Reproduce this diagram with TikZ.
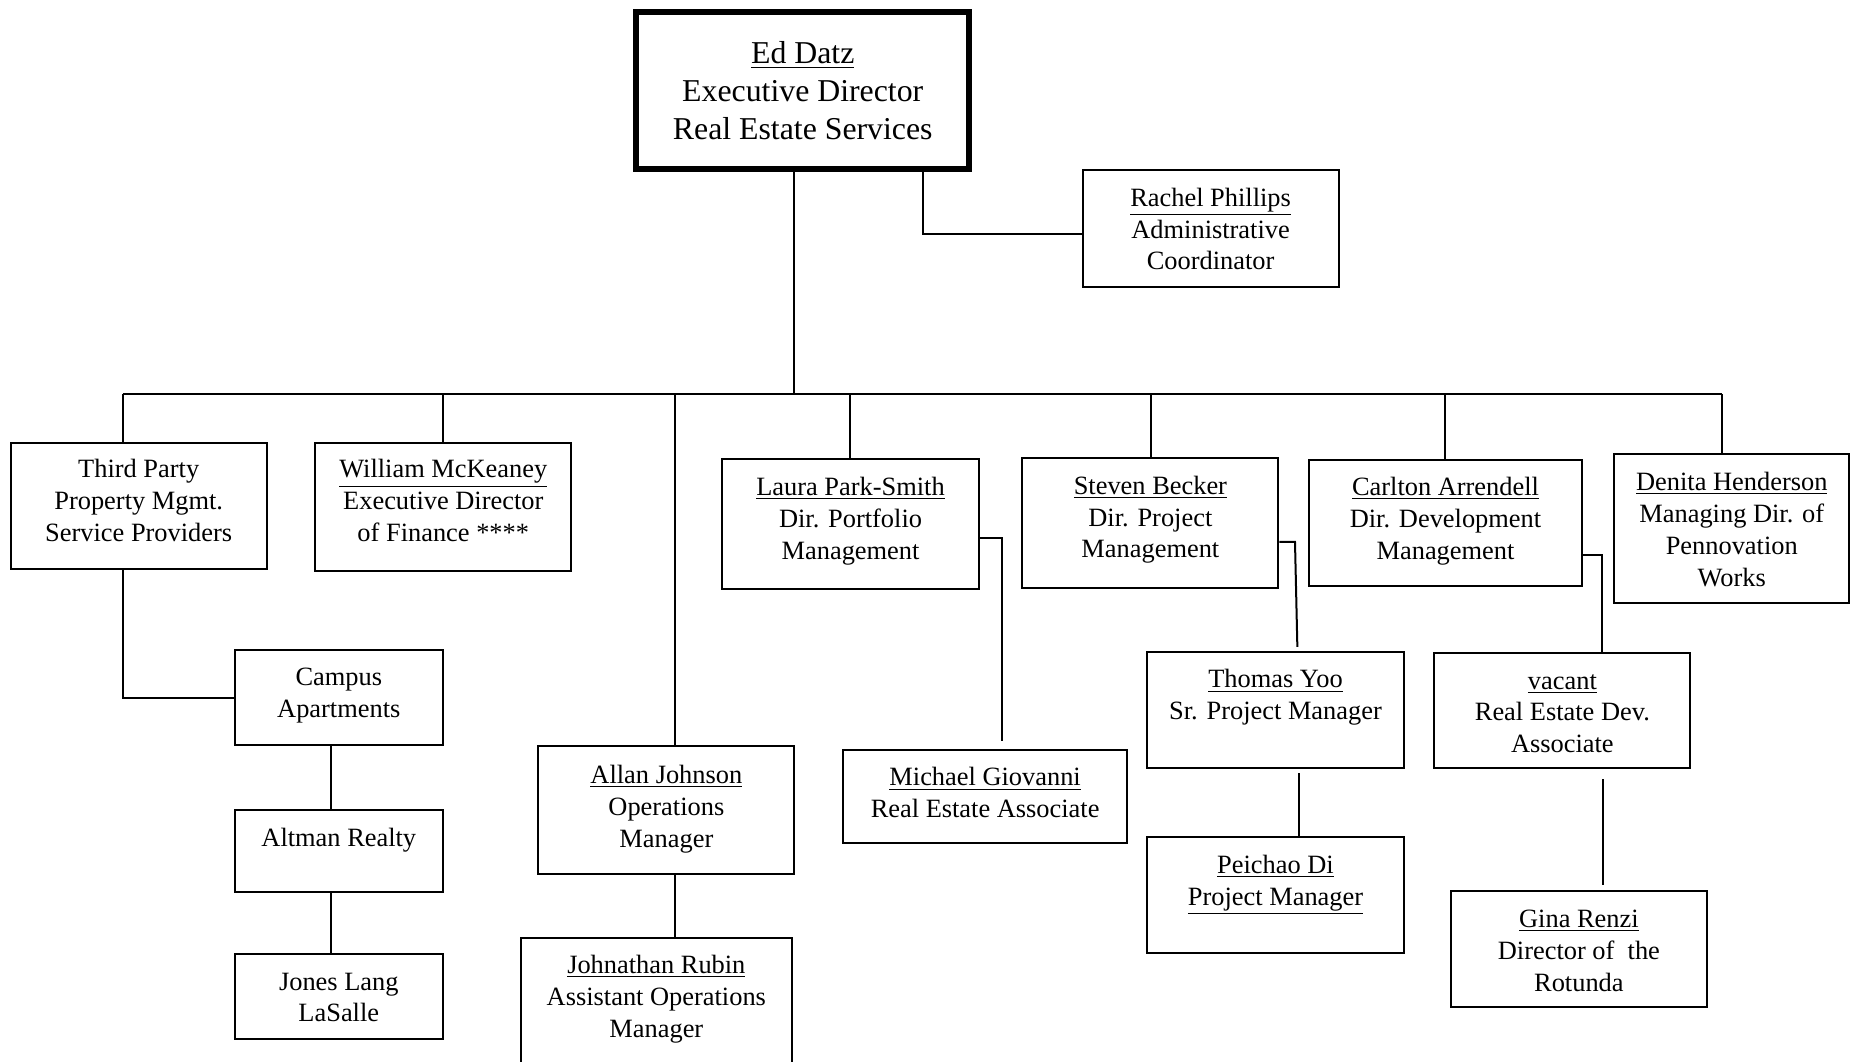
\documentclass[tikz,border=0pt]{standalone}
\usepackage{fontspec}
\setmainfont{Liberation Serif}
\usetikzlibrary{fit}
\begin{document}
\begin{tikzpicture}[x=0.5902pt,y=-0.5902pt,
  box/.style={draw, line width=1pt, inner sep=0pt, fit={#1}},
  bigbox/.style={draw, line width=3pt, inner sep=0pt, fit={#1}},
  txt/.style={align=center, inner sep=0pt, anchor=north, font=\fontsize{13.2}{15.9}\selectfont},
  bigtxt/.style={align=center, inner sep=0pt, anchor=north, font=\fontsize{15.9}{18.9}\selectfont},
  conn/.style={draw, line width=1pt}]
\useasboundingbox (0,0) rectangle (1568,899);
\clip (0,0) rectangle (1568,899);

% boxes
\node[bigbox={(539,10) (821,143)}] (ed) {};
\node[bigtxt] (edt) at (680,31.4) {\strut\underline{Ed Datz}\\Executive Director\\Real Estate Services};

\node[box={(917,144) (1134,243)}] (rachel) {};
\node[txt] (rachelt) at (1025.5,155.5) {\strut\underline{Rachel Phillips}\\Administrative\\Coordinator};

\node[box={(9,375) (226,482)}] (third) {};
\node[txt] (thirdt) at (117.5,385.5) {\strut Third Party\\Property Mgmt.\\Service Providers};

\node[box={(267,375) (484,484)}] (william) {};
\node[txt] (williamt) at (375.5,385.5) {\strut\underline{William McKeaney}\\Executive Director\\of Finance ****};

\node[box={(612,389) (829,499)}] (laura) {};
\node[txt] (laurat) at (720.5,400.5) {\strut\underline{Laura Park-Smith}\\Dir. Portfolio\\Management};

\node[box={(866,388) (1083,498)}] (steven) {};
\node[txt] (stevent) at (974.5,399.5) {\strut\underline{Steven Becker}\\Dir. Project\\Management};

\node[box={(1109,390) (1340,496)}] (carlton) {};
\node[txt] (carltont) at (1224.5,400.5) {\strut\underline{Carlton Arrendell}\\Dir. Development\\Management};

\node[box={(1367,385) (1566,511)}] (denita) {};
\node[txt] (denitat) at (1467,396.5) {\strut\underline{Denita Henderson}\\Managing Dir. of\\Pennovation\\Works};

\node[box={(199,551) (375,631)}] (campus) {};
\node[txt] (campust) at (287,561.5) {\strut Campus\\Apartments};

\node[box={(199,686) (375,756)}] (altman) {};
\node[txt] (altmant) at (287,697.5) {\strut Altman Realty};

\node[box={(199,808) (375,880)}] (jones) {};
\node[txt] (jonest) at (287,819.5) {\strut Jones Lang\\LaSalle};

\node[box={(456,632) (673,740)}] (allan) {};
\node[txt] (allant) at (564.5,644.5) {\strut\underline{Allan Johnson}\\Operations\\Manager};

\node[box={(441,795) (671,930)}] (johnathan) {};
\node[txt] (johnathant) at (556,805.5) {\strut\underline{Johnathan Rubin}\\Assistant Operations\\Manager};

\node[box={(714,635) (955,714)}] (michael) {};
\node[txt] (michaelt) at (834.5,646.5) {\strut\underline{Michael Giovanni}\\Real Estate Associate};

\node[box={(972,552) (1189,651)}] (thomas) {};
\node[txt] (thomast) at (1080.5,563.5) {\strut\underline{Thomas Yoo}\\Sr. Project Manager};

\node[box={(972,709) (1189,807)}] (peichao) {};
\node[txt] (peichaot) at (1080.5,720.5) {\strut\underline{Peichao Di}\\\underline{Project Manager}};

\node[box={(1215,553) (1432,651)}] (vacant) {};
\node[txt] (vacantt) at (1323.5,564.5) {\strut\underline{vacant}\\Real Estate Dev.\\Associate};

\node[box={(1229,755) (1446,853)}] (gina) {};
\node[txt] (ginat) at (1337.5,766.5) {\strut\underline{Gina Renzi}\\Director of\ \ the\\Rotunda};

% connectors
\coordinate (hub) at (673,334);
\coordinate (bl) at (104,334);
\coordinate (br) at (1459,334);
\coordinate (dwill) at (375,334);
\coordinate (dallan) at (572,334);
\coordinate (dlaura) at (720,334);
\coordinate (dsteven) at (975,334);
\coordinate (dcarl) at (1224,334);

\draw[conn] (hub |- ed.south) -- (hub);
\draw[conn] (bl) -- (br);
\draw[conn] (bl) -- (bl |- third.north);
\draw[conn] (dwill) -- (dwill |- william.north);
\draw[conn] (dallan) -- (dallan |- allan.north);
\draw[conn] (dlaura) -- (dlaura |- laura.north);
\draw[conn] (dsteven) -- (dsteven |- steven.north);
\draw[conn] (dcarl) -- (dcarl |- carlton.north);
\draw[conn] (br) -- (br |- denita.north);

\coordinate (er) at (782,198);
\draw[conn] (er |- ed.south) -- (er) -- (er -| rachel.west);

\coordinate (tc) at (104,591);
\draw[conn] (tc |- third.south) -- (tc) -- (tc -| campus.west);

\coordinate (ca) at (280,660);
\draw[conn] (ca |- campus.south) -- (ca |- altman.north);
\coordinate (aj) at (280,780);
\draw[conn] (aj |- altman.south) -- (aj |- jones.north);

\coordinate (ar) at (572,770);
\draw[conn] (ar |- allan.south) -- (ar |- johnathan.north);

\coordinate (lm) at (849,456);
\coordinate (lm2) at (849,628);
\draw[conn] (lm -| laura.east) -- (lm) -- (lm2);

\coordinate (st) at (1097,459);
\coordinate (st2) at (1099,548);
\draw[conn] (st -| steven.east) -- (st) -- (st2);

\coordinate (tp) at (1100,655);
\draw[conn] (tp) -- (tp |- peichao.north);

\coordinate (cv) at (1357,470);
\draw[conn] (cv -| carlton.east) -- (cv) -- (cv |- vacant.north);

\coordinate (vg) at (1358,660);
\coordinate (vg2) at (1358,750);
\draw[conn] (vg) -- (vg2);
\end{tikzpicture}
\end{document}
